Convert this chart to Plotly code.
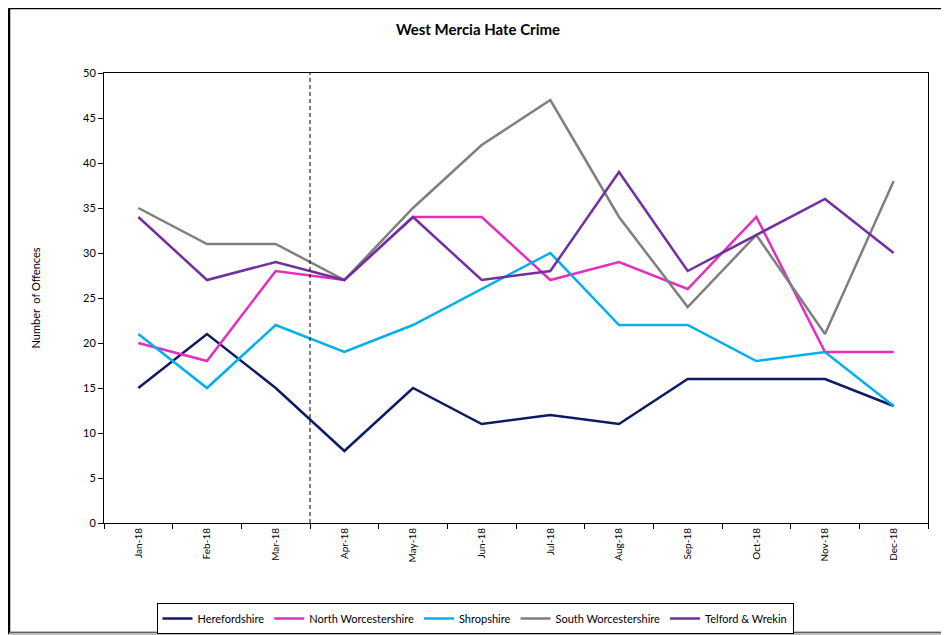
import plotly.graph_objects as go

months = ["Jan-18", "Feb-18", "Mar-18", "Apr-18", "May-18", "Jun-18",
          "Jul-18", "Aug-18", "Sep-18", "Oct-18", "Nov-18", "Dec-18"]

herefordshire = [15, 21, 15, 8, 15, 11, 12, 11, 16, 16, 16, 13]
north_worcs = [20, 18, 28, 27, 34, 34, 27, 29, 26, 34, 19, 19]
shropshire = [21, 15, 22, 19, 22, 26, 30, 22, 22, 18, 19, 13]
south_worcs = [35, 31, 31, 27, 35, 42, 47, 34, 24, 32, 21, 38]
telford = [34, 27, 29, 27, 34, 27, 28, 39, 28, 32, 36, 30]

series = [
    ("Herefordshire", herefordshire, "#0E1A63"),
    ("North Worcestershire", north_worcs, "#E52DBE"),
    ("Shropshire", shropshire, "#00B0EE"),
    ("South Worcestershire", south_worcs, "#7F7F7F"),
    ("Telford & Wrekin", telford, "#7030A0"),
]

fig = go.Figure()
for name, vals, col in series:
    fig.add_trace(go.Scatter(x=months, y=vals, mode="lines", name=name,
                             line=dict(color=col, width=2.5)))

# page body has an 8px default margin; work in screen pixels and offset
OFF = 8
SW, SH = 949, 635
W, H = SW - OFF, SH - OFF
L, R, T, B = 104, 928, 73, 523  # screen pixels of plot area
pw, ph = R - L, B - T

def px(x):
    return (x - L) / pw

def py(y):
    return (B - y) / ph

def cy(y):
    return 1 - (y - OFF) / H

font = "Lato, 'Open Sans', sans-serif"

fig.update_layout(
    width=W, height=H,
    margin=dict(l=L - OFF, r=SW - R, t=T - OFF, b=SH - B, autoexpand=False),
    paper_bgcolor="white", plot_bgcolor="white",
    font=dict(family=font, size=11, color="#000000"),
    title=dict(text="<b>West Mercia Hate Crime</b>", x=px(478), xref="paper",
               xanchor="center", y=cy(30), yref="container", yanchor="middle",
               font=dict(size=15, family=font, color="#000000")),
    showlegend=True,
    legend=dict(orientation="h", x=px(475), xanchor="center", y=py(603),
                yanchor="top", bordercolor="#000000", borderwidth=1,
                font=dict(size=11, family=font), itemwidth=30,
                tracegroupgap=0),
    xaxis=dict(type="category", showgrid=False, showline=True, linecolor="#000000",
               linewidth=1, mirror=True, ticks="outside", ticklen=5,
               tickson="boundaries", tickcolor="#000000", tickangle=-90,
               tickfont=dict(size=10, family=font), range=[-0.5, 11.5]),
    yaxis=dict(range=[0, 50], dtick=5, showgrid=False, showline=True,
               linecolor="#000000", linewidth=1, mirror=True, ticks="outside",
               ticklen=5, tickcolor="#000000", tickfont=dict(size=11, family=font),
               zeroline=False,
               title=dict(text="Number  of Offences", font=dict(size=11, family=font),
                          standoff=40)),
    shapes=[
        dict(type="line", xref="x", yref="y", x0=2.5, x1=2.5, y0=0, y1=50,
             line=dict(color="#000000", width=1, dash="4px,3px")),
        dict(type="rect", xref="paper", yref="paper",
             x0=px(9), x1=px(947.5), y0=py(633), y1=py(8),
             line=dict(color="#000000", width=2.5), layer="below"),
        dict(type="line", xref="paper", yref="paper",
             x0=px(9), x1=px(947.5), y0=py(633.5), y1=py(633.5),
             line=dict(color="#BBBBBB", width=2)),
    ],
)

fig.write_html("out.html")
